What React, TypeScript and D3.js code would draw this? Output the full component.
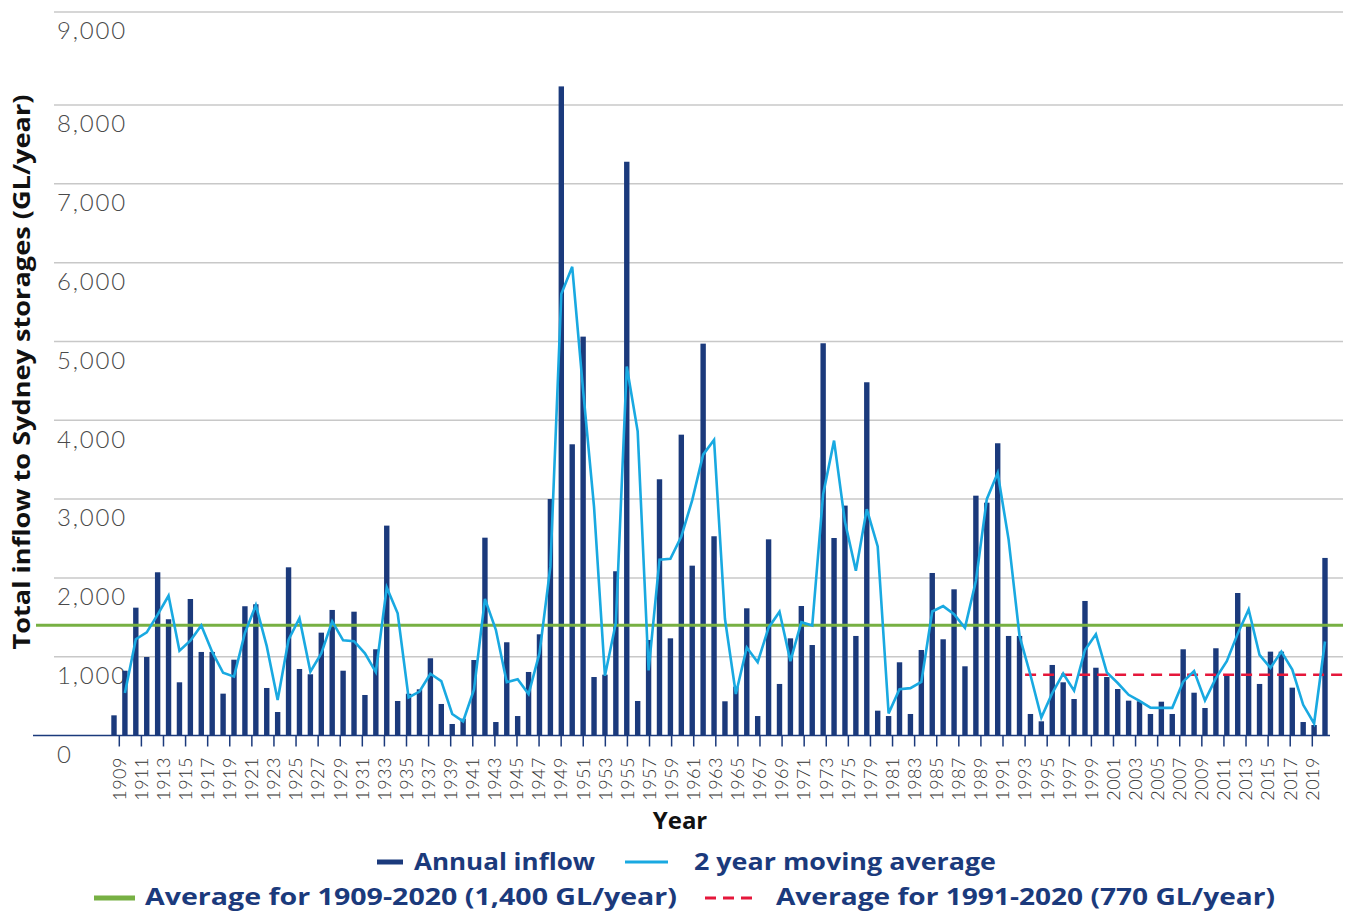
import React from 'react';
import * as d3 from 'd3';

// ---------- data ----------
const years: number[] = d3.range(1909, 2021);

const annualInflow: number[] = [
  256, 822, 1622, 996, 2071, 1475, 675, 1732, 1060, 1060, // 1909-1918
  531, 962, 1640, 1665, 603, 298, 2134, 844, 777, 1305, // 1919-1928
  1593, 822, 1571, 514, 1094, 2663, 438, 530, 586, 980, // 1929-1938
  400, 146, 213, 958, 2510, 171, 1183, 247, 806, 1284, // 1939-1948
  3001, 8200, 3695, 5061, 742, 772, 2084, 7280, 438, 1212, // 1949-1958
  3251, 1233, 3817, 2155, 4972, 2528, 434, 620, 1614, 247, // 1959-1968
  2489, 654, 1233, 1643, 1148, 4977, 2506, 2917, 1263, 4482, // 1969-1978
  315, 247, 929, 273, 1085, 2062, 1221, 1855, 878, 3043, // 1979-1988
  2954, 3708, 1263, 1263, 273, 180, 895, 675, 463, 1707, // 1989-1998
  860, 742, 590, 442, 434, 273, 429, 273, 1094, 543, // 1999-2008
  349, 1107, 777, 1808, 1390, 654, 1064, 1064, 607, 171, // 2009-2018
  133, 2253, // 2019-2020
];

const yTicks: number[] = [0, 1000, 2000, 3000, 4000, 5000, 6000, 7000, 8000, 9000];

const xTickLabels: string[] = [
  '1909', '1911', '1913', '1915', '1917', '1919', '1921', '1923', '1925', '1927',
  '1929', '1931', '1933', '1935', '1937', '1939', '1941', '1943', '1945', '1947',
  '1949', '1951', '1953', '1955', '1957', '1959', '1961', '1963', '1965', '1967',
  '1969', '1971', '1973', '1975', '1979', '1981', '1983', '1985', '1987', '1989',
  '1991', '1993', '1995', '1997', '1999', '2001', '2003', '2005', '2007', '2009',
  '2011', '2013', '2015', '2017', '2019',
];

const longTermAverage = 1400;
const recentAverage = 770;
const recentAverageStartLabel = '1993';

const legendLabels = {
  inflow: 'Annual inflow',
  movingAvg: '2 year moving average',
  longAvg: 'Average for 1909-2020 (1,400 GL/year)',
  recentAvg: 'Average for 1991-2020 (770 GL/year)',
};

// ---------- styles ----------
const NAVY = '#1b3a7c';
const CYAN = '#19a9e1';
const GREEN = '#77b043';
const RED = '#e5173b';
const GRID = '#c8c8c8';

export default function App() {
  const W = 1348;
  const H = 913;

  const x = d3.scalePoint<number>().domain(years).range([114, 1325]);
  const y = d3.scaleLinear().domain([0, 8000, 9000]).range([735.5, 105, 12]);
  const xt = d3.scalePoint<string>().domain(xTickLabels).range([119.3, 1312.3]);

  const movingAverage = years.slice(1).map((yr, i) => ({
    year: yr,
    value: d3.mean([annualInflow[i], annualInflow[i + 1]]) as number,
  }));

  const line = d3
    .line<{ year: number; value: number }>()
    .x((d) => x(d.year) as number)
    .y((d) => y(d.value));

  const barW = 5.4;
  const baseY = y(0);

  const labelFont = "Lato, 'Open Sans', 'DejaVu Sans', sans-serif";
  const boldFont = "'Open Sans', Roboto, 'DejaVu Sans', sans-serif";

  return (
    <div style={{ position: 'absolute', left: 0, top: 0 }}>
      <svg width={W} height={H} style={{ display: 'block', background: '#fff' }}>
        {/* gridlines */}
        {yTicks
          .filter((t) => t > 0)
          .map((t) => (
            <line key={'g' + t} x1={54} x2={1343} y1={y(t)} y2={y(t)} stroke={GRID} strokeWidth={1.5} />
          ))}

        {/* y tick labels */}
        {yTicks.map((t) => (
          <text
            key={'yl' + t}
            x={57}
            y={y(t) + 19}
            dy="0.35em"
            fontFamily={labelFont}
            fontWeight={300}
            fontSize={24}
            letterSpacing={1.8}
            fill="#4a4a4a"
          >
            {d3.format(',')(t)}
          </text>
        ))}

        {/* bars */}
        {years.map((yr, i) => (
          <rect
            key={'b' + yr}
            x={(x(yr) as number) - barW / 2}
            y={y(annualInflow[i])}
            width={barW}
            height={baseY - y(annualInflow[i])}
            fill={NAVY}
          />
        ))}

        {/* baseline */}
        <line x1={33} x2={1330} y1={baseY} y2={baseY} stroke={NAVY} strokeWidth={1.6} />

        {/* ticks and x labels */}
        {xTickLabels.map((l) => (
          <g key={'xt' + l}>
            <line x1={xt(l)} x2={xt(l)} y1={baseY} y2={baseY + 11} stroke={NAVY} strokeWidth={1.5} />
            <text
              transform={`translate(${xt(l)},757) rotate(-90)`}
              textAnchor="end"
              dy="0.35em"
              fontFamily={labelFont}
              fontWeight={300}
              fontSize={18}
              letterSpacing={0.5}
              fill="#333"
            >
              {l}
            </text>
          </g>
        ))}

        {/* averages */}
        <line
          x1={36}
          x2={1343}
          y1={y(longTermAverage)}
          y2={y(longTermAverage)}
          stroke={GREEN}
          strokeWidth={3}
        />
        <line
          x1={xt(recentAverageStartLabel)}
          x2={1343}
          y1={y(recentAverage)}
          y2={y(recentAverage)}
          stroke={RED}
          strokeWidth={2.6}
          strokeDasharray="11,7"
        />

        {/* moving average */}
        <path d={line(movingAverage) || ''} fill="none" stroke={CYAN} strokeWidth={2.6} />

        {/* axis titles */}
        <text
          transform="translate(22,372) rotate(-90)"
          textAnchor="middle"
          dy="0.35em"
          fontFamily={boldFont}
          fontWeight={700}
          fontSize={24}
          textLength={555}
          lengthAdjust="spacingAndGlyphs"
          fill="#111"
        >
          Total inflow to Sydney storages (GL/year)
        </text>
        <text
          x={680}
          y={821}
          dy="0.35em"
          textAnchor="middle"
          fontFamily={boldFont}
          fontWeight={700}
          fontSize={24}
          fill="#111"
        >
          Year
        </text>

        {/* legend row 1 */}
        <line x1={377} x2={403} y1={862} y2={862} stroke={NAVY} strokeWidth={5} />
        <text
          x={414}
          y={862}
          dy="0.35em"
          fontFamily={boldFont}
          fontWeight={700}
          fontSize={24}
          textLength={181}
          lengthAdjust="spacingAndGlyphs"
          fill={NAVY}
        >
          {legendLabels.inflow}
        </text>
        <line x1={625} x2={668} y1={862} y2={862} stroke={CYAN} strokeWidth={3} />
        <text
          x={694}
          y={862}
          dy="0.35em"
          fontFamily={boldFont}
          fontWeight={700}
          fontSize={24}
          textLength={302}
          lengthAdjust="spacingAndGlyphs"
          fill={NAVY}
        >
          {legendLabels.movingAvg}
        </text>

        {/* legend row 2 */}
        <line x1={94} x2={135} y1={898} y2={898} stroke={GREEN} strokeWidth={5} />
        <text
          x={145}
          y={897}
          dy="0.35em"
          fontFamily={boldFont}
          fontWeight={700}
          fontSize={23}
          textLength={532}
          lengthAdjust="spacingAndGlyphs"
          fill={NAVY}
        >
          {legendLabels.longAvg}
        </text>
        <line
          x1={705}
          x2={758}
          y1={898}
          y2={898}
          stroke={RED}
          strokeWidth={3}
          strokeDasharray="11,7"
        />
        <text
          x={776}
          y={897}
          dy="0.35em"
          fontFamily={boldFont}
          fontWeight={700}
          fontSize={23}
          textLength={499}
          lengthAdjust="spacingAndGlyphs"
          fill={NAVY}
        >
          {legendLabels.recentAvg}
        </text>
      </svg>
    </div>
  );
}
